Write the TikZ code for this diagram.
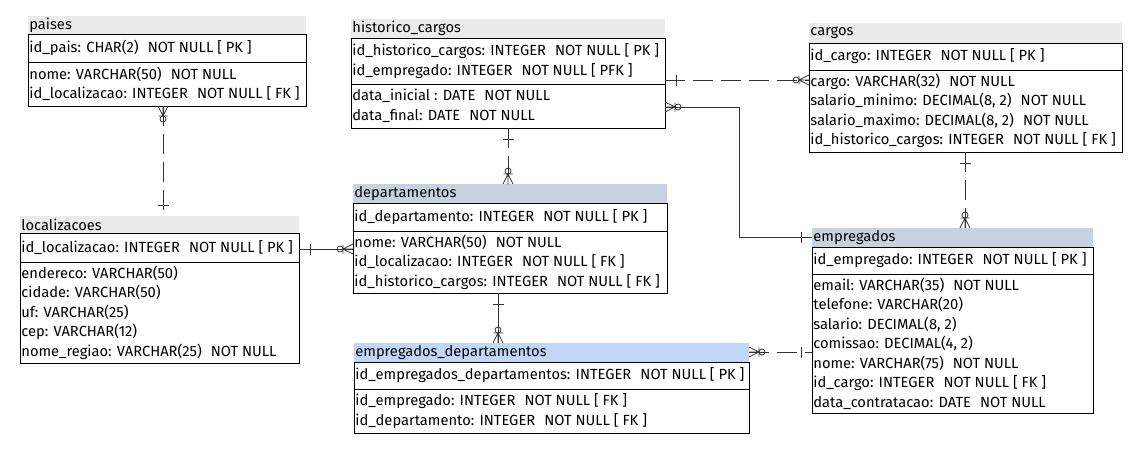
\documentclass[tikz,border=0pt]{standalone}
\usepackage{fontspec}
\setmainfont{Fira Sans}
\definecolor{hgrey}{HTML}{EBEBEB}
\definecolor{hblue}{HTML}{C8D1E0}
\definecolor{hlblue}{HTML}{C1D7F7}
\definecolor{lnk}{HTML}{333333}
\newcommand{\entfont}{\fontsize{14.7}{19.5}\selectfont}
\newcommand{\gapp}{\hspace{0.62em}}
\newcommand{\mkent}[8]{%
  \node[hdrbox, fill=#8, minimum width={#3-#2}, minimum height={#5-#4}] (#1H) at (#2,#4) {};
  \node[entbox, minimum width={#3-#2}, minimum height={#6-#5}] (#1K) at (#2,#5) {};
  \node[entbox, minimum width={#3-#2}, minimum height={#7-#6}] (#1A) at (#2,#6) {};
}
\newcommand{\enttxt}[4]{%
  \node[txt] (#1T) at (#1H.west) {#2};
  \node[txt] (#1KT) at (#1K.west) {#3};
  \node[txt] (#1AT) at (#1A.west) {#4};
}
\tikzset{
  hdrbox/.style={anchor=north west, inner sep=0pt, outer sep=0pt, draw=none},
  entbox/.style={anchor=north west, inner sep=0pt, outer sep=0pt, draw=black, line width=0.9pt},
  txt/.style={anchor=west, inner xsep=1.2pt, inner ysep=0pt, align=left, font=\entfont},
  conn/.style={draw=lnk, line width=0.8pt},
  dsh/.style={dash pattern=on 20pt off 8pt},
  pico/.style={draw=lnk, line width=0.8pt, solid},
  crowz/.pic={\draw[pico] (0,5)--(10,0) (0,-5)--(10,0) (0,0)--(10,0) (10,-4.5)--(10,4.5);
              \draw[pico] (13,0) circle[radius=3pt];},
  onet/.pic={\draw[pico] (11,-5.5)--(11,5.5);}
}
\begin{document}
\begin{tikzpicture}[x=1pt,y=-1pt]
\useasboundingbox (0,0) rectangle (1148,464);
% entities: name, x0, x1, yh, yb, ys, ye, colour
\mkent{pai}{28}{306}{16}{34}{62}{106}{hgrey}
\mkent{his}{351}{665}{19}{38}{84}{128}{hgrey}
\mkent{car}{809}{1122}{23}{43}{70}{152}{hgrey}
\mkent{loc}{20}{299}{216}{233}{262}{363}{hgrey}
\mkent{dep}{353}{667}{184}{203}{231}{293}{hblue}
\mkent{edp}{354}{749}{343}{362}{389}{433}{hlblue}
\mkent{emp}{812}{1093}{228}{247}{274}{413}{hblue}

\enttxt{pai}{paises}{id\_pais: CHAR(2)\gapp NOT NULL [ PK ]}
  {nome: VARCHAR(50)\gapp NOT NULL\\id\_localizacao: INTEGER\gapp NOT NULL [ FK ]}
\enttxt{his}{historico\_cargos}
  {id\_historico\_cargos: INTEGER\gapp NOT NULL [ PK ]\\id\_empregado: INTEGER\gapp NOT NULL [ PFK ]}
  {data\_inicial : DATE\gapp NOT NULL\\data\_final: DATE\gapp NOT NULL}
\enttxt{car}{cargos}{id\_cargo: INTEGER\gapp NOT NULL [ PK ]}
  {cargo: VARCHAR(32)\gapp NOT NULL\\salario\_minimo: DECIMAL(8, 2)\gapp NOT NULL\\salario\_maximo: DECIMAL(8, 2)\gapp NOT NULL\\id\_historico\_cargos: INTEGER\gapp NOT NULL [ FK ]}
\enttxt{loc}{localizacoes}{id\_localizacao: INTEGER\gapp NOT NULL [ PK ]}
  {endereco: VARCHAR(50)\\cidade: VARCHAR(50)\\uf: VARCHAR(25)\\cep: VARCHAR(12)\\nome\_regiao: VARCHAR(25)\gapp NOT NULL}
\enttxt{dep}{departamentos}{id\_departamento: INTEGER\gapp NOT NULL [ PK ]}
  {nome: VARCHAR(50)\gapp NOT NULL\\id\_localizacao: INTEGER\gapp NOT NULL [ FK ]\\id\_historico\_cargos: INTEGER\gapp NOT NULL [ FK ]}
\enttxt{edp}{empregados\_departamentos}{id\_empregados\_departamentos: INTEGER\gapp NOT NULL [ PK ]}
  {id\_empregado: INTEGER\gapp NOT NULL [ FK ]\\id\_departamento: INTEGER\gapp NOT NULL [ FK ]}
\enttxt{emp}{empregados}{id\_empregado: INTEGER\gapp NOT NULL [ PK ]}
  {email: VARCHAR(35)\gapp NOT NULL\\telefone: VARCHAR(20)\\salario: DECIMAL(8, 2)\\comissao: DECIMAL(4, 2)\\nome: VARCHAR(75)\gapp NOT NULL\\id\_cargo: INTEGER\gapp NOT NULL [ FK ]\\data\_contratacao: DATE\gapp NOT NULL}

% connectors
% paises - localizacoes
\draw[conn,dsh] ([xshift=135]paiA.south west) -- ([xshift=143]locH.north west);
\pic[rotate=-90] at ([xshift=135]paiA.south west) {crowz};
\pic[rotate=90] at ([xshift=143]locH.north west) {onet};
% historico - cargos
\draw[conn,dsh] ([yshift=-42]hisK.north east) -- ([yshift=-10]carA.north west);
\pic at ([yshift=-42]hisK.north east) {onet};
\pic[rotate=180] at ([yshift=-10]carA.north west) {crowz};
% historico - empregados
\draw[conn] ([yshift=-23]hisA.north east) -- ++(74,0) |- ([yshift=-9]empH.north west);
\pic at ([yshift=-23]hisA.north east) {crowz};
\pic[rotate=180] at ([yshift=-9]empH.north west) {onet};
% historico - departamentos
\draw[conn,dsh] ([xshift=157]hisA.south west) -- ([xshift=155]depH.north west);
\pic[rotate=-90] at ([xshift=157]hisA.south west) {onet};
\pic[rotate=90] at ([xshift=155]depH.north west) {crowz};
% localizacoes - departamentos
\draw[conn] ([yshift=-16]locK.north east) -- ([yshift=-18]depA.north west);
\pic at ([yshift=-16]locK.north east) {onet};
\pic[rotate=180] at ([yshift=-18]depA.north west) {crowz};
% departamentos - empregados_departamentos
\draw[conn] ([xshift=145]depA.south west) -- ([xshift=144]edpH.north west);
\pic[rotate=-90] at ([xshift=145]depA.south west) {onet};
\pic[rotate=90] at ([xshift=144]edpH.north west) {crowz};
% empregados_departamentos - empregados
\draw[conn,dsh] ([yshift=-9]edpH.north east) -- ([yshift=-78]empA.north west);
\pic at ([yshift=-9]edpH.north east) {crowz};
\pic[rotate=180] at ([yshift=-78]empA.north west) {onet};
% cargos - empregados
\draw[conn,dsh] ([xshift=156]carA.south west) -- ([xshift=153]empH.north west);
\pic[rotate=-90] at ([xshift=156]carA.south west) {onet};
\pic[rotate=90] at ([xshift=153]empH.north west) {crowz};
\end{tikzpicture}
\end{document}
